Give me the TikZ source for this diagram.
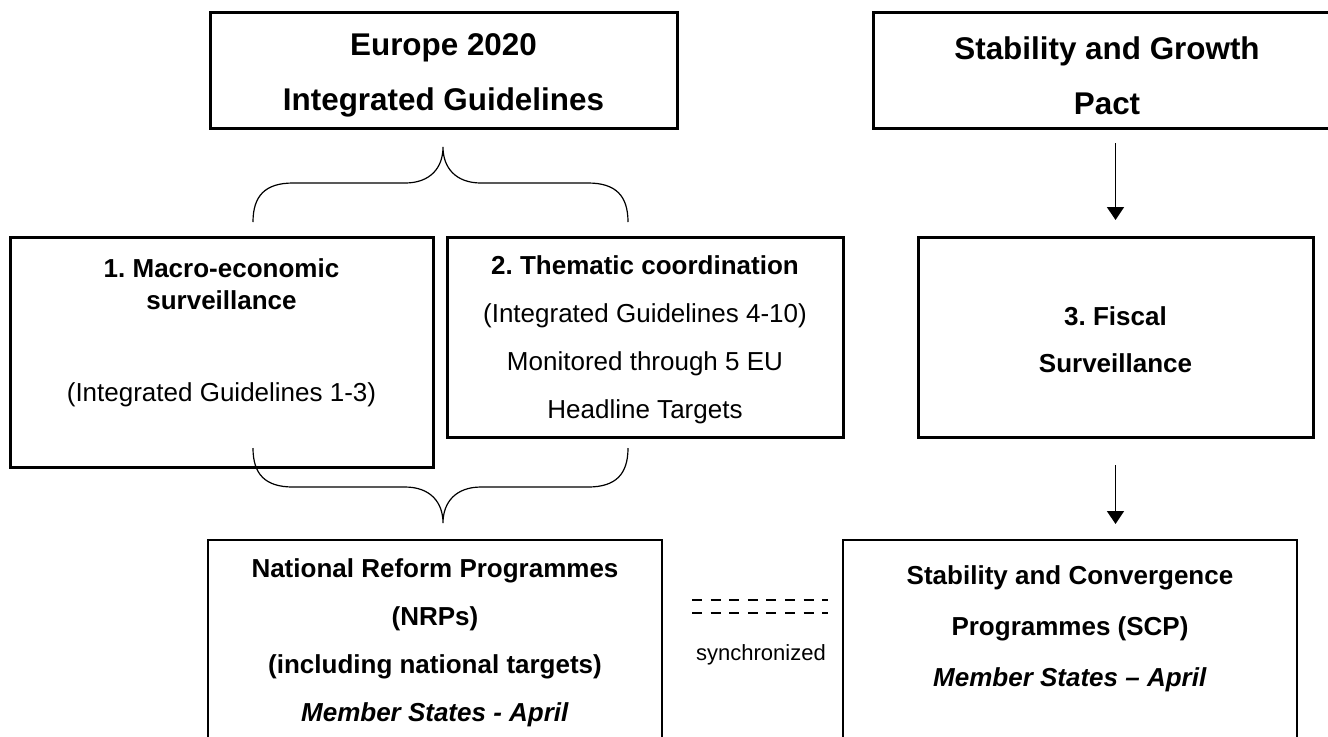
\documentclass[tikz,border=0pt]{standalone}
\usepackage{fontspec}
\setmainfont{Liberation Sans}
\frenchspacing
\usetikzlibrary{arrows.meta,positioning,calc}
\tikzset{frame/.style={draw=black,line width=1.5pt,inner sep=0pt,outer sep=0pt},
 thinframe/.style={draw=black,line width=0.75pt,inner sep=0pt,outer sep=0pt},
 head/.style={font=\fontsize{15.7}{27.5}\selectfont\bfseries,align=center,inner sep=0pt},
 body/.style={font=\fontsize{13}{24}\selectfont,align=center,inner sep=0pt},
 arr/.style={-{Triangle[length=6.5pt,width=8.5pt]},line width=0.75pt},
 brace/.style={line width=0.6pt},
 syncline/.style={dash pattern=on 5pt off 4.3pt,line width=1.2pt}}

\begin{document}
\begin{tikzpicture}[x=0.5pt,y=-0.5pt]
\fill[white] (0,0) rectangle (1328,736);
\useasboundingbox (0,0) rectangle (1328,736);
% top row
\node[frame,minimum width=233.5pt,minimum height=58pt] (eu) at (443.5,70) {};
\node[head] (eut) at (443.5,75.5) {Europe 2020\\Integrated Guidelines};
\node[frame,minimum width=234pt,minimum height=58pt] (sgp) at (1107,70) {};
\node[head] (sgpt) at (1107,75.5) {Stability and Growth\\Pact};
% middle row
\node[frame,minimum width=211.5pt,minimum height=115pt] (macro) at (221.5,352) {};
\node[body,font=\fontsize{13}{16}\selectfont\bfseries] (macrot) at (221.5,284) {1. Macro-economic\\surveillance};
\node[body] (macrog) at (221.5,395) {(Integrated Guidelines 1-3)};
\node[frame,minimum width=198pt,minimum height=100pt] (thema) at (645,337) {};
\node[body] (themat) at (645,340) {\textbf{2. Thematic coordination}\\(Integrated Guidelines 4-10)\\Monitored through 5 EU\\Headline Targets};
\node[frame,minimum width=197.5pt,minimum height=100pt] (fiscal) at (1115.5,337) {};
\node[body,font=\fontsize{13}{23.5}\selectfont\bfseries] (fiscalt) at (1115.5,340) {3. Fiscal\\Surveillance};
% bottom row
\node[thinframe,minimum width=227pt,minimum height=130pt] (nrp) at (435,670) {};
\node[body,font=\fontsize{13}{24}\selectfont\bfseries] (nrpt) at (435,643) {National Reform Programmes\\(NRPs)\\(including national targets)\\\textit{Member States - April}};
\node[thinframe,minimum width=227pt,minimum height=130pt] (scp) at (1070,670) {};
\node[body,font=\fontsize{13}{25.5}\selectfont\bfseries] (scpt) at (1070,629) {Stability and Convergence\\Programmes (SCP)\\\textit{Member States – April}};
% braces
\draw[brace] (253,222) .. controls (253,196) and (265,183) .. (293,183) -- (405,183) .. controls (430,183) and (443,168) .. (443,147) .. controls (443,168) and (456,183) .. (481,183) -- (588,183) .. controls (616,183) and (628,196) .. (628,222);
\draw[brace] (253,448) .. controls (253,474) and (265,487) .. (293,487) -- (405,487) .. controls (430,487) and (443,502) .. (443,523) .. controls (443,502) and (456,487) .. (481,487) -- (588,487) .. controls (616,487) and (628,474) .. (628,448);
% arrows
\draw[arr,shorten <=7.5pt,shorten >=8.5pt] (fiscal.north |- sgp.south) -- (fiscal.north);
\draw[arr,shorten <=14pt,shorten >=8pt] (fiscal.south) -- (fiscal.south |- scp.north);
% synchronized
\coordinate (s1) at (692,600);
\coordinate (s2) at (828,600);
\draw[syncline] (s1) -- (s2);
\draw[syncline] ([yshift=-6.5pt]s1) -- ([yshift=-6.5pt]s2);
\node[font=\fontsize{11}{13}\selectfont] (synct) at (761,655) {synchronized};
\end{tikzpicture}
\end{document}
